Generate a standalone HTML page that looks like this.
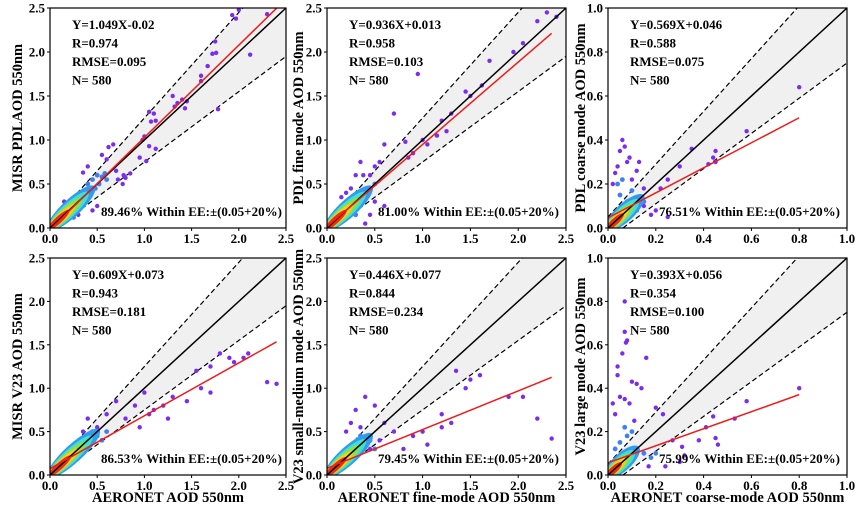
<!DOCTYPE html>
<html><head><meta charset="utf-8"><style>
body{margin:0;background:#fff}
svg{display:block;font-family:"Liberation Serif",serif;font-weight:bold}
</style></head><body>
<svg id="c" width="857" height="514"></svg>
<script>
const titlesY=["MISR PDLAOD 550nm","PDL fine mode AOD 550nm","PDL coarse mode AOD 550nm","MISR V23  AOD 550nm","V23  small-medium mode AOD 550nm","V23  large mode AOD 550nm"];
const titlesX=["","","","AERONET AOD 550nm","AERONET fine-mode AOD 550nm","AERONET coarse-mode AOD 550nm"];
const axisMax=[2.5,2.5,1.0,2.5,2.5,1.0];
const ticks25=["0.0","0.5","1.0","1.5","2.0","2.5"];
const ticks10=["0.0","0.2","0.4","0.6","0.8","1.0"];
const slopes=[1.049,0.936,0.569,0.609,0.446,0.393];
const intercepts=[-0.02,0.013,0.046,0.073,0.077,0.056];
const regMaxX=[2.4,2.35,0.8,2.4,2.35,0.8];
const statsR=["0.974","0.958","0.588","0.943","0.844","0.354"];
const statsRMSE=["0.095","0.103","0.075","0.181","0.234","0.100"];
const statsEq=["Y=1.049X-0.02","Y=0.936X+0.013","Y=0.569X+0.046","Y=0.609X+0.073","Y=0.446X+0.077","Y=0.393X+0.056"];
const withinEE=["89.46%","81.00%","76.51%","86.53%","79.45%","75.99%"];
const coreLen=[0.45,0.45,0.14,0.5,0.45,0.12];
const pts1=[[2.0,2.48],[1.93,2.42],[1.97,2.38],[2.3,2.43],[2.12,1.97],[1.75,2.12],[1.72,1.98],[1.76,1.99],[1.67,1.84],[1.6,1.73],[1.6,1.67],[1.78,1.35],[1.45,1.44],[1.4,1.46],[1.35,1.42],[1.3,1.5],[1.32,1.38],[1.43,1.36],[1.1,1.3],[1.07,1.21],[1.12,1.22],[1.05,1.32],[1.12,0.9],[1.05,0.93],[1.0,1.04],[0.98,1.0],[1.02,0.76],[0.95,0.8],[0.67,0.95],[0.62,0.92],[0.55,0.83],[0.6,0.78],[0.4,0.7],[0.8,0.57],[0.78,0.6],[0.77,0.5],[0.72,0.55],[0.7,0.65],[0.85,0.62],[0.5,0.25],[0.45,0.2],[0.3,0.15],[0.35,0.63],[0.15,0.3],[0.1,0.2]];
const pts2=[[2.3,2.45],[2.2,2.35],[1.95,2.0],[2.05,2.1],[1.7,1.9],[1.62,1.62],[1.45,1.55],[1.3,1.3],[1.2,1.22],[1.15,1.05],[1.0,1.0],[0.95,1.75],[0.9,0.85],[0.85,0.8],[0.7,1.3],[0.6,0.95],[0.55,0.75],[0.5,0.7],[0.45,0.6],[0.6,0.25],[0.5,0.3],[0.45,0.15],[0.35,0.75],[0.3,0.6],[0.25,0.45],[0.2,0.4],[0.15,0.35],[0.4,0.05],[0.38,0.6],[1.05,0.95],[0.82,0.98],[1.25,1.1],[1.5,1.5],[2.4,2.4]];
const pts3=[[0.8,0.64],[0.44,0.32],[0.45,0.3],[0.35,0.36],[0.3,0.28],[0.25,0.22],[0.22,0.18],[0.15,0.18],[0.58,0.44],[0.06,0.4],[0.05,0.35],[0.08,0.3],[0.04,0.28],[0.03,0.25],[0.1,0.22],[0.12,0.26],[0.07,0.37],[0.09,0.32],[0.02,0.2],[0.15,0.1],[0.2,0.08],[0.25,0.05],[0.18,0.06],[0.13,0.3],[0.45,0.35],[0.42,0.29]];
const pts4=[[2.3,1.07],[2.4,1.05],[2.05,1.35],[1.95,1.3],[1.9,1.35],[1.7,1.25],[1.55,1.2],[1.6,1.0],[1.7,0.95],[1.45,0.85],[1.3,0.9],[1.2,0.8],[1.1,0.75],[1.0,0.95],[0.9,0.8],[0.8,0.65],[0.7,0.85],[0.6,0.7],[0.5,0.55],[0.4,0.65],[0.35,0.5],[0.95,0.55],[1.05,0.7],[1.25,0.65],[1.8,1.4],[2.1,1.4]];
const pts5=[[2.35,0.42],[2.2,0.65],[2.05,0.9],[1.9,0.9],[1.6,1.15],[1.5,1.1],[1.45,1.0],[1.3,0.6],[1.2,0.55],[1.05,0.35],[1.0,0.5],[0.9,0.45],[0.8,0.3],[0.7,0.5],[0.6,0.6],[0.5,0.8],[0.4,0.9],[0.3,0.75],[0.25,0.6],[0.35,0.55],[0.45,0.3],[0.55,0.4],[0.2,0.5],[1.2,0.7],[1.35,1.2]];
const pts6=[[0.8,0.4],[0.58,0.34],[0.53,0.26],[0.44,0.27],[0.45,0.17],[0.46,0.14],[0.41,0.22],[0.38,0.16],[0.07,0.8],[0.07,0.66],[0.08,0.62],[0.075,0.61],[0.06,0.56],[0.16,0.54],[0.04,0.5],[0.04,0.46],[0.1,0.43],[0.12,0.42],[0.14,0.4],[0.05,0.36],[0.07,0.35],[0.02,0.33],[0.09,0.33],[0.03,0.28],[0.11,0.25],[0.2,0.31],[0.23,0.28],[0.27,0.16],[0.31,0.13],[0.32,0.09],[0.17,0.04],[0.24,0.04],[0.3,0.06]];
const blue1=[[0.45,0.55],[0.5,0.6],[0.55,0.58],[0.48,0.45],[0.52,0.5],[0.42,0.4],[0.58,0.62],[0.35,0.3],[0.3,0.2],[0.25,0.12],[0.4,0.5],[0.6,0.55]];
const blue2=[[0.3,0.35],[0.35,0.3],[0.4,0.4],[0.25,0.2],[0.45,0.45],[0.2,0.3],[0.3,0.15],[0.5,0.5],[0.15,0.25]];
const blue3=[[0.05,0.15],[0.08,0.12],[0.1,0.1],[0.12,0.08],[0.04,0.2],[0.15,0.12],[0.06,0.22],[0.1,0.17]];
const blue4=[[0.4,0.35],[0.5,0.45],[0.3,0.3],[0.6,0.5],[0.55,0.4],[0.35,0.4],[0.45,0.5],[0.25,0.25]];
const blue5=[[0.3,0.3],[0.4,0.35],[0.2,0.25],[0.5,0.3],[0.35,0.45],[0.25,0.15],[0.45,0.4]];
const blue6=[[0.05,0.15],[0.08,0.18],[0.1,0.2],[0.12,0.12],[0.15,0.1],[0.18,0.08],[0.03,0.12],[0.07,0.22],[0.2,0.1]];
const allPts=[pts1,pts2,pts3,pts4,pts5,pts6];
const allBlue=[blue1,blue2,blue3,blue4,blue5,blue6];

const NS="http://www.w3.org/2000/svg";
const svg=document.getElementById('c');
function mk(tag,attrs,parent,text){const e=document.createElementNS(NS,tag);for(const k in attrs)e.setAttribute(k,attrs[k]);if(text!==undefined)e.textContent=text;(parent||svg).appendChild(e);return e;}
const boxes=[[50,286,8,228],[327,566,8,228],[608,847,8,228],[50,286,258,475],[327,566,258,475],[608,847,258,475]];
const ylabX=[17,298,580];
for(let i=0;i<6;i++){
  const [x0,x1,y0,y1]=boxes[i];const M=axisMax[i];
  const sx=v=>x0+(x1-x0)*v/M, sy=v=>y1-(y1-y0)*v/M;
  const g=mk('g',{});
  
  
  const cid='clip'+i;
  const cp=mk('clipPath',{id:cid},g);mk('rect',{x:x0,y:y0,width:x1-x0,height:y1-y0},cp);
  const inner=mk('g',{'clip-path':'url(#'+cid+')'},g);
  // EE envelope
  const env=mk('polygon',{points:`${sx(0)},${sy(0.05)} ${sx(M)},${sy(M*1.2+0.05)} ${sx(M)},${sy(M*0.8-0.05)} ${sx(0.0625)},${sy(0)} ${sx(0)},${sy(0)}`,fill:'#f0f0f0'},inner);
  
  
  const lu=mk('line',{x1:sx(0),y1:sy(0.05),x2:sx(M),y2:sy(M*1.2+0.05),stroke:'#000','stroke-width':1.2,'stroke-dasharray':'5,3'},inner);
  
  
  const ll=mk('line',{x1:sx(0.0625),y1:sy(0),x2:sx(M),y2:sy(M*0.8-0.05),stroke:'#000','stroke-width':1.2,'stroke-dasharray':'5,3'},inner);
  
  
  // points
  allPts[i].forEach(p=>{const c=mk('circle',{cx:sx(p[0]),cy:sy(p[1]),r:2.2,fill:'#7a2cf0'},inner);
    
    });
  allBlue[i].forEach(p=>{const c=mk('circle',{cx:sx(p[0]),cy:sy(p[1]),r:2.4,fill:'#3f7ef5'},inner);
    
    });
  // density core
  const L=coreLen[i];const ang=Math.atan2(sy(L)-sy(0),sx(L)-sx(0))*180/Math.PI;
  const cx=sx(L/2),cy=sy(L/2);const len=Math.hypot(sx(L)-sx(0),sy(L)-sy(0));
  const layers=[['#2f9cf0',1.0,9],['#3fe0d0',0.85,7],['#8de04a',0.7,5.5],['#f0d020',0.55,4.5],['#e83018',0.4,3.5]];
  layers.forEach(([col,f,w])=>{const e=mk('ellipse',{cx:sx(L*f/2),cy:sy(L*f/2),rx:len*f/2+3,ry:w,fill:col,transform:`rotate(${Math.atan2(sy(L)-sy(0),sx(L)-sx(0))*180/Math.PI},${sx(L*f/2)},${sy(L*f/2)})`},inner);
    
    });
  // 1:1 line
  const one=mk('line',{x1:sx(0),y1:sy(0),x2:sx(M),y2:sy(M),stroke:'#000','stroke-width':1.5},inner);
  
  
  const reg=mk('line',{x1:sx(0),y1:sy(intercepts[i]),x2:sx(regMaxX[i]),y2:sy(slopes[i]*regMaxX[i]+intercepts[i]),stroke:'#ee1c1c','stroke-width':1.5},inner);
  
  
  // frame
  const fr=mk('rect',{x:x0,y:y0,width:x1-x0,height:y1-y0,fill:'none',stroke:'#000','stroke-width':1.2},g);
  
  
  // ticks
  const tl=M>2?ticks25:ticks10;
  tl.forEach(t=>{const v=parseFloat(t);
    mk('line',{x1:sx(v),y1:y1,x2:sx(v),y2:y1+3,stroke:'#000'},g);
    mk('line',{x1:x0,y1:sy(v),x2:x0-3,y2:sy(v),stroke:'#000'},g);
    const xt=mk('text',{x:sx(v),y:y1+15,'font-size':13,'text-anchor':'middle'},g,t);
    
    
    const yt=mk('text',{x:x0-5,y:sy(v)+4.5,'font-size':13,'text-anchor':'end'},g,t);
    
    
  });
  // stats
  const lines=[statsEq[i],'R='+statsR[i],'RMSE='+statsRMSE[i],'N=  580'];
  lines.forEach((s,k)=>{const t=mk('text',{x:x0+22,y:y0+21+k*18.5,'font-size':13},g,s);
    
    });
  const ee=mk('text',{x:x0+51,y:y1-12,'font-size':13},g,withinEE[i]+' Within EE:±(0.05+20%)');
  
  
  // titles
  const yx=ylabX[i%3],ymid=(y0+y1)/2;
  const yt=mk('text',{x:yx,y:ymid,'font-size':14.5,'text-anchor':'middle',transform:`rotate(-90,${yx},${ymid})`,dy:5},g,titlesY[i]);
  
  
  if(titlesX[i]){const xt=mk('text',{x:(x0+x1)/2,y:502,'font-size':14.5,'text-anchor':'middle'},g,titlesX[i]);
    
    }
}
</script>
</body></html>
